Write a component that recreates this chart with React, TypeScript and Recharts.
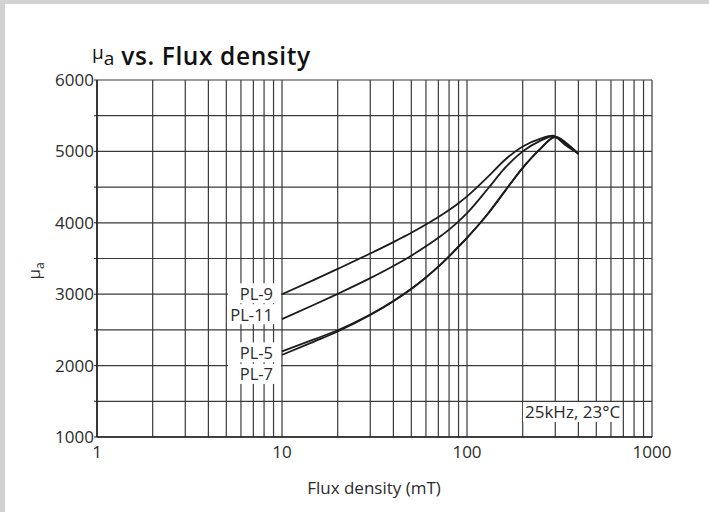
import React from "react";
import { LineChart, Line, XAxis, YAxis, CartesianGrid, LabelList } from "recharts";

// flux density (mT) and amplitude permeability
const B_PL9 = [10, 15, 20, 30, 40, 50, 60, 70, 80, 90, 100, 130, 160, 200, 250, 290, 340, 400];
const MU_PL9 = [3000, 3205, 3355, 3570, 3730, 3860, 3975, 4080, 4180, 4275, 4370, 4646, 4880, 5070, 5180, 5220, 5090, 4970];

const B_PL11 = [10, 15, 20, 30, 40, 50, 60, 70, 80, 90, 100, 130, 160, 200, 250, 290, 340, 400];
const MU_PL11 = [2650, 2855, 3005, 3225, 3395, 3540, 3670, 3790, 3905, 4020, 4135, 4480, 4765, 5000, 5150, 5212, 5115, 4970];

const B_PL5 = [10, 15, 20, 30, 40, 50, 60, 70, 80, 90, 100, 130, 160, 200, 250, 300, 340, 400];
const MU_PL5 = [2200, 2370, 2495, 2715, 2905, 3075, 3235, 3385, 3530, 3665, 3790, 4130, 4440, 4770, 5040, 5205, 5130, 4965];

const B_PL7 = [10, 15, 20, 30, 40, 50, 60, 70, 80, 90, 100, 130, 160, 200, 250, 300, 340, 400];
const MU_PL7 = [2150, 2340, 2478, 2708, 2902, 3073, 3234, 3385, 3530, 3665, 3790, 4130, 4440, 4770, 5040, 5200, 5110, 4965];

const X_TICKS = [
  1, 2, 3, 4, 5, 6, 7, 8, 9,
  10, 20, 30, 40, 50, 60, 70, 80, 90,
  100, 200, 300, 400, 500, 600, 700, 800, 900,
  1000,
];
const X_LABELED = [1, 10, 100, 1000];
const Y_TICKS = [1000, 1500, 2000, 2500, 3000, 3500, 4000, 4500, 5000, 5500, 6000];

const toRows = (b: number[], mu: number[]) => b.map((v, i) => ({ b: v, mu: mu[i] }));

const SERIES = [
  { name: "PL-9", data: toRows(B_PL9, MU_PL9), tagDy: -1 },
  { name: "PL-11", data: toRows(B_PL11, MU_PL11), tagDy: -5 },
  { name: "PL-5", data: toRows(B_PL5, MU_PL5), tagDy: 1 },
  { name: "PL-7", data: toRows(B_PL7, MU_PL7), tagDy: 19 },
];

const FONT = "'Open Sans', 'DejaVu Sans', sans-serif";
const INK = "#2b2b2b";
const GRID = "#3a3a3a";

function tag(p: any, name: string, dy: number) {
  if (p.index !== 0) return null;
  const x = Number(p.x);
  const y = Number(p.y) + dy;
  return (
    <g key={name}>
      <rect x={x - 54} y={y - 10} width={53} height={20} fill="#fff" />
      <text
        x={x - 9}
        y={y}
        textAnchor="end"
        dominantBaseline="central"
        fontFamily={FONT}
        fontSize={16.5}
        fill={INK}
      >
        {name}
      </text>
    </g>
  );
}

export default function App() {
  const tickStyle = { fontFamily: FONT, fontSize: 17, fill: INK };
  return (
    <div style={{ position: "absolute", left: 0, top: 0, width: 709, height: 512, background: "#fff", overflow: "hidden" }}>
      <div style={{ position: "absolute", left: 0, top: 0, width: 709, height: 4, background: "#d2d2d2" }} />
      <div style={{ position: "absolute", left: 0, top: 0, width: 5, height: 512, background: "#d2d2d2" }} />

      <LineChart width={709} height={512} margin={{ top: 80, right: 57, bottom: 0, left: 0 }}>
        <CartesianGrid stroke={GRID} strokeWidth={1.2} />
        <XAxis
          dataKey="b"
          type="number"
          scale="log"
          domain={[1, 1000]}
          allowDataOverflow
          ticks={X_TICKS}
          interval={0}
          tickFormatter={(v: number) => (X_LABELED.includes(v) ? String(v) : "")}
          tick={tickStyle}
          tickLine={false}
          tickSize={0}
          tickMargin={9}
          height={75}
          axisLine={{ stroke: "#222", strokeWidth: 1.6 }}
        />
        <YAxis
          type="number"
          domain={[1000, 6000]}
          ticks={Y_TICKS}
          interval={0}
          tickFormatter={(v: number) => (v % 1000 === 0 ? String(v) : "")}
          tick={tickStyle}
          tickSize={3}
          tickMargin={0}
          tickLine={{ stroke: "#222" }}
          width={97}
          axisLine={{ stroke: "#222", strokeWidth: 1.6 }}
        />
        {SERIES.map((s) => (
          <Line
            key={s.name}
            data={s.data}
            dataKey="mu"
            name={s.name}
            type="monotone"
            stroke="#1c1c1c"
            strokeWidth={1.8}
            dot={false}
            isAnimationActive={false}
          >
            <LabelList dataKey="mu" content={(p: any) => tag(p, s.name, s.tagDy)} />
          </Line>
        ))}
      </LineChart>

      <div
        style={{
          position: "absolute",
          left: 92,
          top: 41,
          fontFamily: FONT,
          fontSize: 24.5,
          fontWeight: 600,
          letterSpacing: 0.6,
          color: "#111",
          whiteSpace: "nowrap",
          lineHeight: "30px",
        }}
      >
        <span style={{ fontWeight: 400, fontSize: 19, letterSpacing: 0 }}>
          <span style={{ position: "relative", top: -6 }}>μ</span>a
        </span>{" "}
        vs. Flux density
      </div>

      <div
        style={{
          position: "absolute",
          left: 33,
          top: 271,
          transform: "translate(-50%, -50%) rotate(-90deg)",
          fontFamily: FONT,
          fontSize: 17,
          color: INK,
          whiteSpace: "nowrap",
        }}
      >
        μ<span style={{ fontSize: 12, position: "relative", top: 4 }}>a</span>
      </div>

      <div
        style={{
          position: "absolute",
          left: 374,
          top: 487,
          transform: "translate(-50%, -50%)",
          fontFamily: FONT,
          fontSize: 17,
          color: INK,
          whiteSpace: "nowrap",
        }}
      >
        Flux density (mT)
      </div>

      <div
        style={{
          position: "absolute",
          left: 523,
          top: 402,
          padding: "0 2px",
          background: "#fff",
          fontFamily: FONT,
          fontSize: 17,
          lineHeight: "20px",
          color: INK,
          whiteSpace: "nowrap",
        }}
      >
        25kHz, 23°C
      </div>
    </div>
  );
}
